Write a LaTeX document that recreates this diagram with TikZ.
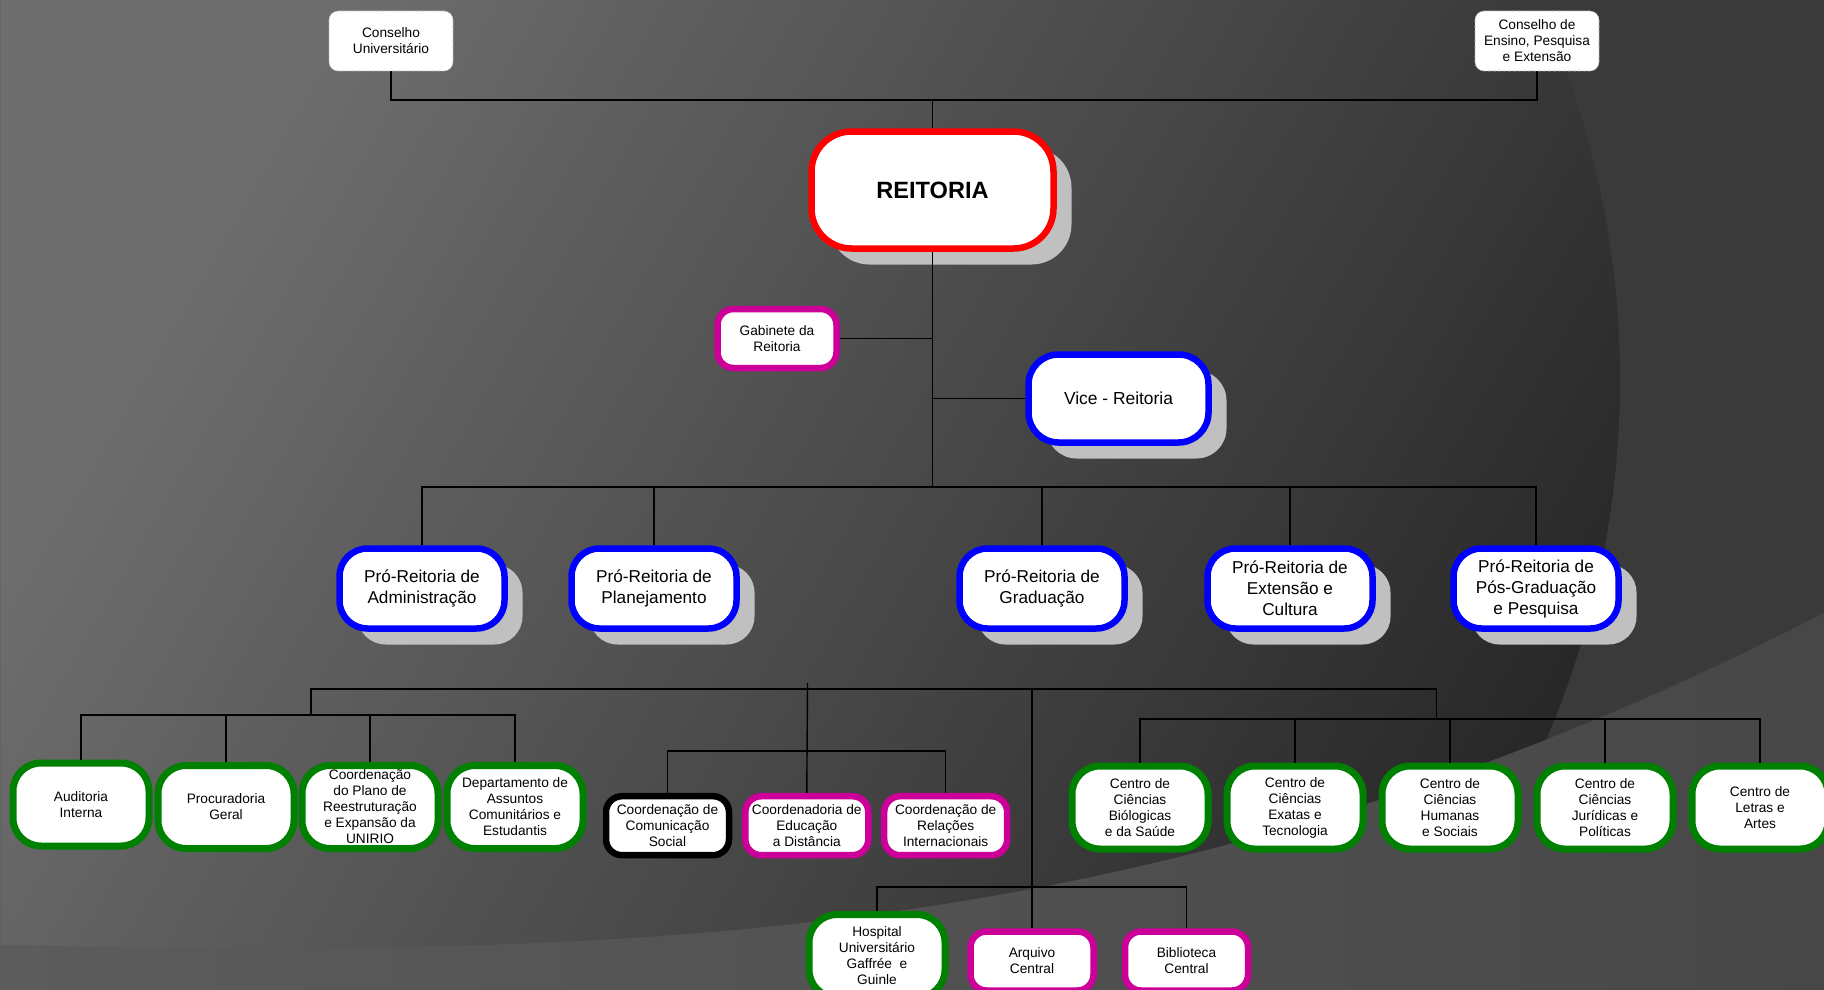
\documentclass[tikz,border=0pt]{standalone}
\usepackage{fontspec}
\setmainfont{Liberation Sans}
\usetikzlibrary{shadows}

\definecolor{bgLight}{HTML}{6E6E6E}
\definecolor{bgDark}{HTML}{232323}
\definecolor{bgOuter}{HTML}{3A3A3A}
\definecolor{bandLeft}{HTML}{5C5C5C}
\definecolor{bandRight}{HTML}{474747}
\definecolor{reitRed}{HTML}{FF0000}
\definecolor{proBlue}{HTML}{0000FF}
\definecolor{unitGreen}{HTML}{008000}
\definecolor{unitPink}{HTML}{CC0099}
\definecolor{shadowGray}{HTML}{C0C0C0}

\begin{document}
\begin{tikzpicture}
[x=1pt,y=-1pt,
  lineDecorate/.style={-,line width=1.4pt,black},
  boxDecorate/.style={shape=rectangle,align=center,fill=white,text=black,inner sep=0pt},
  smallText/.style={font=\fontsize{13.7}{16}\selectfont},
  shadowDecorate/.style={drop shadow={shadow xshift=18pt,shadow yshift=-16pt,fill=shadowGray,opacity=1}},
  councilDecorate/.style={boxDecorate,smallText,draw=black!30,densely dashed,line width=0.6pt,
    rounded corners=9pt,minimum width=124pt,minimum height=60pt},
  reitDecorate/.style={boxDecorate,shadowDecorate,draw=reitRed,line width=6.5pt,rounded corners=40pt,
    minimum width=242pt,minimum height=117pt,font=\fontsize{23.6}{28}\selectfont\bfseries},
  viceDecorate/.style={boxDecorate,shadowDecorate,draw=proBlue,line width=6.5pt,rounded corners=30pt,
    minimum width=180pt,minimum height=88pt,font=\fontsize{17.4}{21}\selectfont},
  proDecorate/.style={boxDecorate,shadowDecorate,draw=proBlue,line width=6.5pt,rounded corners=28pt,
    minimum width=165pt,minimum height=80pt,font=\fontsize{17.2}{21}\selectfont},
  greenDecorate/.style={boxDecorate,smallText,draw=unitGreen,line width=7pt,rounded corners=28pt,
    minimum width=136pt,minimum height=83pt},
  pinkDecorate/.style={boxDecorate,smallText,draw=unitPink,line width=6.5pt,rounded corners=16pt,
    minimum width=123pt,minimum height=59pt},
  blackDecorate/.style={pinkDecorate,draw=black}]

\useasboundingbox (0,0) rectangle (1824,990);
\clip (0,0) rectangle (1824,990);

%% background
\shade[top color=bgLight,bottom color=bgDark,shading angle=60] (0,0) rectangle (1824,990);
\fill[bgOuter,even odd rule] (0,0) rectangle (1824,990) (709,380) circle (911);
\shade[left color=bandLeft,right color=bandRight]
  (0,945) .. controls (600,955) and (1150,960) .. (1824,613) -- (1824,990) -- (0,990) -- cycle;

%% councils
\foreach \nodename/\x/\y/\txt in {
  cu/391/41/{Conselho\\Universitário},
  cepe/1537/41/{Conselho de\\Ensino, Pesquisa\\e Extensão}}
{
  \node (\nodename) at (\x,\y) [councilDecorate] {\txt};
}

%% rectorate
\node (reit) at (932.5,190) [reitDecorate] {REITORIA};
\node (gab) at (777,338.5) [pinkDecorate,minimum width=119pt] {Gabinete da\\Reitoria};
\node (vice) at (1118.5,398.5) [viceDecorate] {Vice - Reitoria};

%% pro-rectorates
\foreach \nodename/\x/\txt in {
  prAdm/422/{Pró-Reitoria de\\Administração},
  prPlan/654/{Pró-Reitoria de\\Planejamento},
  prGrad/1042/{Pró-Reitoria de\\Graduação},
  prExt/1290/{Pró-Reitoria de\\Extensão e\\Cultura},
  prPos/1536/{Pró-Reitoria de\\Pós-Graduação\\e Pesquisa}}
{
  \node (\nodename) at (\x,588.5) [proDecorate] {\txt};
}

%% green units
\foreach \nodename/\x/\y/\txt in {
  audit/81/804.5/{Auditoria\\Interna},
  proc/226/807/{Procuradoria\\Geral},
  cpre/370/807/{Coordenação\\do Plano de\\Reestruturação\\e Expansão da\\UNIRIO},
  dace/515/807/{Departamento de\\Assuntos\\Comunitários e\\Estudantis},
  ccbs/1140/807.5/{Centro de\\Ciências\\Biólogicas\\e da Saúde},
  ccet/1295/807.5/{Centro de\\Ciências\\Exatas e\\Tecnologia},
  cchs/1450/807.5/{Centro de\\Ciências\\Humanas\\e Sociais},
  ccjp/1605/807.5/{Centro de\\Ciências\\Jurídicas e\\Políticas},
  cla/1760/807.5/{Centro de\\Letras e\\Artes},
  hug/877/956/{Hospital\\Universitário\\Gaffrée\ \ e\\Guinle}}
{
  \node (\nodename) at (\x,\y) [greenDecorate] {\txt};
}

%% coordinations
\node (ccs) at (667.5,825.7) [blackDecorate] {Coordenação de\\Comunicação\\Social};
\foreach \nodename/\x/\y/\txt in {
  ead/806.8/825.7/{Coordenadoria de\\Educação\\a Distância},
  cri/945.7/825.7/{Coordenação de\\Relações\\Internacionais},
  arq/1032/961/{Arquivo\\Central},
  bib/1186.5/961/{Biblioteca\\Central}}
{
  \node (\nodename) at (\x,\y) [pinkDecorate] {\txt};
}

%% joints
\coordinate (topJoin) at (932.5,100);
\coordinate (proJoin) at (932.5,487);
\coordinate (hubTop) at (807.5,683);
\coordinate (arqHub) at (1032,689);
\coordinate (leftHub) at (311,715);
\coordinate (rightHub) at (1436.5,719);
\coordinate (midHub) at (807.5,751);
\coordinate (hospHub) at (1032,887);

%% edges or lines
\draw[lineDecorate] (cu.south) |- (topJoin) -| (cepe.south);
\draw[lineDecorate] (topJoin) -- (reit.north);
\draw[lineDecorate] (reit.south) -- (proJoin);
\draw[lineDecorate] (gab.east) -- (gab.east -| reit.south);
\draw[lineDecorate] (vice.west) -- (vice.west -| reit.south);
\draw[lineDecorate] (prAdm.north) |- (proJoin) -| (prPos.north);
\foreach \nodename in {prPlan,prGrad,prExt}
  \draw[lineDecorate] (proJoin -| \nodename.north) -- (\nodename.north);

\draw[lineDecorate] (leftHub) |- (arqHub) -| (rightHub);
\draw[lineDecorate] (audit.north) |- (leftHub) -| (dace.north);
\foreach \nodename in {proc,cpre}
  \draw[lineDecorate] (leftHub -| \nodename.north) -- (\nodename.north);
\draw[lineDecorate] (hubTop) -- (ead.north);
\draw[lineDecorate] (ccs.north) |- (midHub) -| (cri.north);
\draw[lineDecorate] (ccbs.north) |- (rightHub) -| (cla.north);
\foreach \nodename in {ccet,cchs,ccjp}
  \draw[lineDecorate] (rightHub -| \nodename.north) -- (\nodename.north);
\draw[lineDecorate] (arqHub) -- (arq.north);
\draw[lineDecorate] (hug.north) |- (hospHub) -| (bib.north);
\end{tikzpicture}
\end{document}
